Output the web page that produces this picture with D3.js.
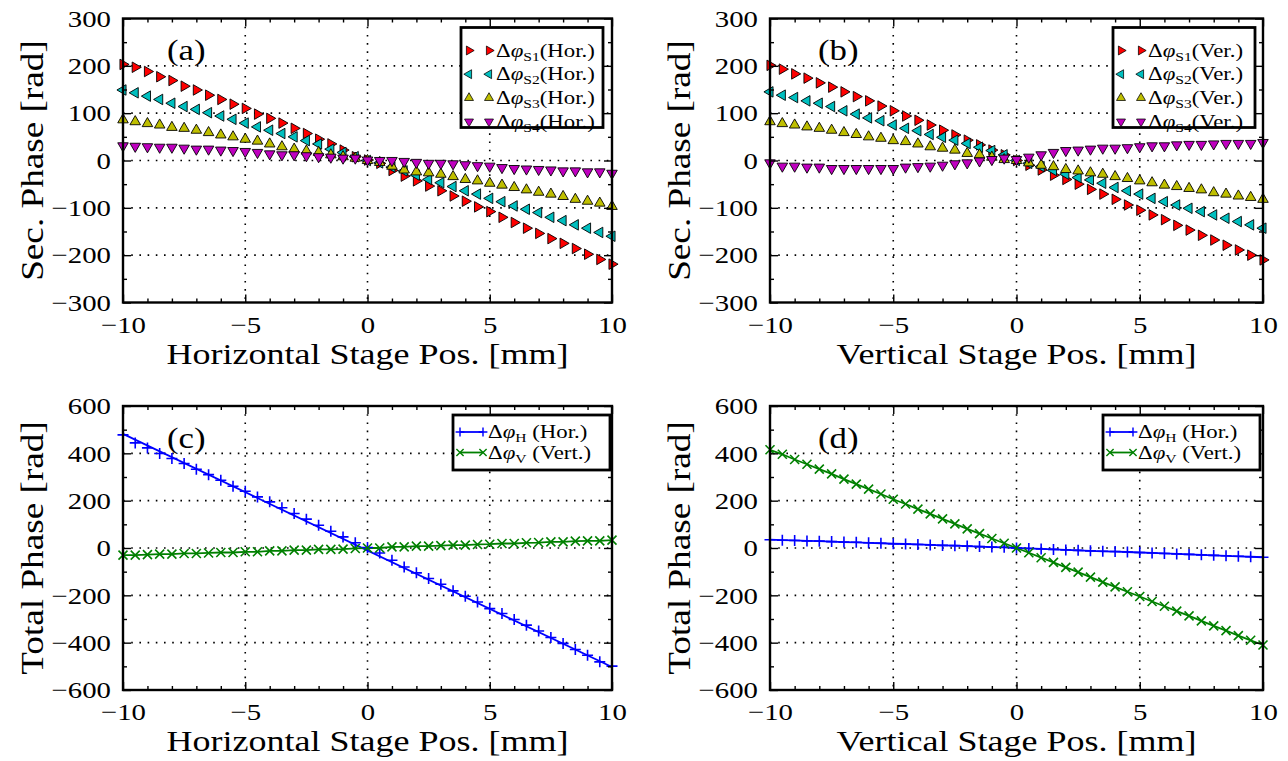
<!DOCTYPE html>
<html>
<head>
<meta charset="utf-8">
<script src="https://cdn.jsdelivr.net/npm/d3@7"></script>
<style>
body { margin: 0; background: #fff; }
svg, svg text { font-family: "Liberation Serif", "Times New Roman", serif; }
</style>
</head>
<body>
<svg id="drawing_region"></svg>
<script>
// stage positions [mm], 0.5 mm step
const stagePos = [-10, -9.5, -9, -8.5, -8, -7.5, -7, -6.5, -6, -5.5, -5, -4.5, -4, -3.5, -3, -2.5, -2, -1.5, -1, -0.5,
    0, 0.5, 1, 1.5, 2, 2.5, 3, 3.5, 4, 4.5, 5, 5.5, 6, 6.5, 7, 7.5, 8, 8.5, 9, 9.5, 10];

// (a) secondary phase, horizontal scan [rad]
const secHorS1 = [203, 197, 188, 177, 169, 157, 149, 138, 129, 119, 110, 98, 89, 79, 68, 57, 45, 35, 22, 8,
    1, -6, -21, -33, -43, -54, -64, -75, -86, -98, -108, -120, -131, -143, -154, -165, -175, -186, -198, -209, -219];
const secHorS2 = [149, 143, 136, 129, 121, 114, 108, 101, 94, 87, 79, 71, 64, 57, 50, 42, 35, 24, 17, 8,
    0, -5, -14, -22, -31, -40, -47, -55, -64, -71, -80, -87, -96, -103, -110, -120, -127, -136, -143, -152, -160];
const secHorS3 = [86, 82, 78, 75, 70, 68, 64, 59, 54, 50, 45, 41, 35, 29, 24, 20, 17, 12, 8, 5,
    0, -4, -12, -20, -24, -26, -29, -34, -40, -43, -48, -52, -57, -62, -67, -71, -76, -82, -86, -90, -97];
const secHorS4 = [31, 30, 29, 28, 28, 26, 24, 24, 22, 21, 19, 17, 14, 12, 12, 10, 8, 7, 5, 5,
    1, 0, 0, -2, -4, -6, -6, -7, -9, -11, -12, -15, -17, -18, -19, -20, -22, -22, -24, -24, -27];

// (b) secondary phase, vertical scan [rad]
const secVerS1 = [201, 193, 183, 174, 164, 155, 145, 135, 126, 115, 105, 94, 85, 75, 64, 54, 43, 33, 22, 12,
    0, -10, -20, -31, -40, -50, -61, -71, -82, -94, -105, -115, -125, -137, -147, -158, -168, -179, -189, -200, -210];
const secVerS2 = [145, 138, 133, 126, 121, 114, 105, 98, 90, 84, 75, 68, 63, 55, 49, 43, 36, 28, 21, 12,
    0, -6, -13, -21, -29, -36, -41, -48, -57, -64, -71, -80, -87, -94, -101, -108, -115, -122, -129, -136, -143];
const secVerS3 = [82, 78, 75, 71, 68, 64, 59, 55, 50, 47, 42, 40, 35, 29, 26, 22, 15, 12, 7, 2,
    0, -5, -10, -13, -19, -22, -26, -29, -34, -38, -43, -47, -52, -55, -59, -62, -68, -71, -75, -78, -82];
const secVerS4 = [-5, -12, -12, -14, -14, -17, -17, -17, -17, -17, -17, -14, -13, -12, -10, -7, -5, -1, 2, 5,
    2, 7, 12, 17, 21, 22, 24, 26, 26, 27, 29, 31, 31, 33, 34, 34, 35, 36, 36, 36, 38];

// (c) total phase, horizontal scan [rad]
const totHorH = [478, 444, 423, 399, 378, 357, 333, 310, 286, 261, 240, 216, 195, 170, 146, 122, 96, 71, 47, 22,
    2, -21, -52, -80, -105, -129, -153, -181, -204, -228, -256, -277, -302, -326, -351, -378, -403, -429, -453, -481, -499];
const totHorV = [-30, -30, -28, -26, -26, -23, -23, -21, -19, -19, -16, -16, -12, -12, -9, -9, -6, -6, -5, -2,
    0, 0, 5, 5, 8, 8, 10, 12, 12, 15, 16, 19, 19, 22, 23, 26, 26, 29, 30, 30, 33];
// straight fit through the H points
const fitPos = [-10, 10];
const totHorHFit = [482, -503];

// (d) total phase, vertical scan [rad]
const totVerH = [35, 33, 32, 30, 29, 27, 25, 24, 22, 20, 18, 17, 15, 13, 11, 10, 8, 6, 4, 3,
    0, -2, -4, -6, -8, -10, -12, -14, -15, -17, -19, -21, -23, -25, -27, -29, -31, -33, -35, -37, -39];
const totVerV = [415, 396, 374, 354, 333, 313, 291, 270, 249, 228, 206, 186, 164, 144, 123, 102, 81, 61, 40, 20,
    0, -20, -41, -61, -82, -102, -123, -144, -164, -185, -205, -226, -246, -267, -287, -308, -329, -349, -370, -390, -410];

// ticks
const xTicks = [-10, -5, 0, 5, 10];
const xMinor = [-9, -8, -7, -6, -4, -3, -2, -1, 1, 2, 3, 4, 6, 7, 8, 9];
const secTicks = [-300, -200, -100, 0, 100, 200, 300];
const secMinor = [-250, -150, -50, 50, 150, 250];
const totTicks = [-600, -400, -200, 0, 200, 400, 600];
const totMinor = [-500, -300, -100, 100, 300, 500];

// serif glyphs here are narrower than the original ones
const K = 1.2;
const FONT = '"Liberation Serif", "Times New Roman", serif';

const svg = d3.select('#drawing_region')
    .attr('width', 1288)
    .attr('height', 761);

const marker_paths = {
    right: d3.symbol(d3.symbolTriangle, 48)(),
    cross: 'M-5.5,0H5.5M0,-5.5V5.5',
    ex: 'M-4.5,-4.5L4.5,4.5M-4.5,4.5L4.5,-4.5'
};

function stretchedText( parent, x, y, size, rotate ) {
    const g = parent.append('g')
        .attr('transform', `translate(${x},${y})` + (rotate ? ` rotate(${rotate})` : '') + ` scale(${K},1)`);
    return g.append('text')
        .style('font-family', FONT)
        .style('font-size', size + 'px')
        .attr('fill', '#000');
}

function phaseLabel( text, sub, suffix, subSize ) {
    text.append('tspan').text('Δ');
    text.append('tspan').style('font-style', 'italic').text('φ');
    text.append('tspan').attr('dy', 4).style('font-size', subSize + 'px').text(sub);
    text.append('tspan').attr('dy', -4).text(suffix);
}

class PhasePanel {

    constructor( config, series ) {
        this.config = config;
        this.series = series;
        this.init();
    }

    init() {
        let self = this;
        const c = self.config;

        self.chart = svg.append('g')
            .attr('transform', `translate(${c.left}, ${c.top})`);

        self.inner_width = c.right - c.left;
        self.inner_height = c.bottom - c.top;

        self.xscale = d3.scaleLinear()
            .domain([-10, 10])
            .range([0, self.inner_width]);

        self.yscale = d3.scaleLinear()
            .domain([c.yticks[0], c.yticks[c.yticks.length - 1]])
            .range([self.inner_height, 0]);
    }

    render() {
        let self = this;
        const c = self.config;
        const w = self.inner_width, h = self.inner_height;

        // dotted grid at major ticks
        const grid = self.chart.append('g')
            .attr('stroke', '#000')
            .attr('stroke-width', 1.6)
            .attr('stroke-dasharray', '1.6,6.6');
        grid.selectAll('.gx').data(xTicks.slice(1, -1)).join('line')
            .attr('x1', d => self.xscale(d)).attr('x2', d => self.xscale(d))
            .attr('y1', 0).attr('y2', h);
        grid.selectAll('.gy').data(c.yticks.slice(1, -1)).join('line')
            .attr('y1', d => self.yscale(d)).attr('y2', d => self.yscale(d))
            .attr('x1', 0).attr('x2', w);

        // lines
        const line = d3.line()
            .x(d => self.xscale(d[0]))
            .y(d => self.yscale(d[1]));
        self.series.filter(s => s.line).forEach(s => {
            self.chart.append('path')
                .datum(d3.zip(s.linePos || stagePos, s.line))
                .attr('d', line)
                .attr('fill', 'none')
                .attr('stroke', s.color)
                .attr('stroke-width', 1.8);
        });

        // markers
        self.series.forEach(s => {
            self.chart.append('g')
                .selectAll('path')
                .data(d3.zip(stagePos, s.values))
                .join('path')
                .attr('transform', d => `translate(${self.xscale(d[0])},${self.yscale(d[1])}) rotate(${s.rotate || 0})`)
                .attr('d', marker_paths[s.shape])
                .attr('fill', s.shape == 'right' ? s.color : 'none')
                .attr('stroke', s.shape == 'right' ? '#000' : s.color)
                .attr('stroke-width', s.shape == 'right' ? 0.9 : 1.6);
        });

        // axes with inward ticks on all sides
        const fmt = d3.format('');
        const addAxis = ( axis, transform, size, values, labels ) => {
            const g = self.chart.append('g')
                .attr('transform', transform)
                .call(axis.tickValues(values).tickSizeInner(-size).tickSizeOuter(0)
                    .tickPadding(labels ? 12 : 0)
                    .tickFormat(labels ? fmt : ''));
            g.select('.domain').remove();
            g.attr('font-family', null).attr('font-size', null);
            g.selectAll('line').attr('stroke', '#000').attr('stroke-width', 1.4);
            return g;
        };
        const bottomAxis = addAxis(d3.axisBottom(self.xscale), `translate(0,${h})`, 8, xTicks, true);
        addAxis(d3.axisBottom(self.xscale), `translate(0,${h})`, 4, xMinor, false);
        addAxis(d3.axisTop(self.xscale), 'translate(0,0)', 8, xTicks, false);
        addAxis(d3.axisTop(self.xscale), 'translate(0,0)', 4, xMinor, false);
        const leftAxis = addAxis(d3.axisLeft(self.yscale), 'translate(0,0)', 8, c.yticks, true);
        addAxis(d3.axisLeft(self.yscale), 'translate(0,0)', 4, c.yminor, false);
        addAxis(d3.axisRight(self.yscale), `translate(${w},0)`, 8, c.yticks, false);
        addAxis(d3.axisRight(self.yscale), `translate(${w},0)`, 4, c.yminor, false);

        bottomAxis.selectAll('text')
            .style('font-family', FONT)
            .style('font-size', '24px').attr('fill', '#000')
            .attr('y', 13)
            .attr('transform', `scale(${K},1)`);
        leftAxis.selectAll('text')
            .style('font-family', FONT)
            .style('font-size', '24px').attr('fill', '#000')
            .attr('x', -12 / K)
            .attr('transform', `scale(${K},1)`);

        // frame
        self.chart.append('rect')
            .attr('width', w).attr('height', h)
            .attr('fill', 'none')
            .attr('stroke', '#000')
            .attr('stroke-width', 2.4);

        // axis titles and panel letter
        stretchedText(self.chart, w / 2, h + 61, 30)
            .attr('text-anchor', 'middle')
            .text(c.xlabel);
        stretchedText(self.chart, -80, h / 2, 31, -90)
            .attr('text-anchor', 'middle')
            .text(c.ylabel);
        stretchedText(self.chart, c.tagX, c.tagY, 29)
            .text(c.tag);

        self.legend();
    }

    legend() {
        let self = this;
        const c = self.config, L = c.legend;
        const lg = self.chart.append('g')
            .attr('transform', `translate(${L.x}, ${L.y})`);
        lg.append('rect')
            .attr('width', L.w).attr('height', L.h)
            .attr('fill', '#fff')
            .attr('stroke', '#000')
            .attr('stroke-width', 2.8);

        self.series.forEach((s, i) => {
            const ry = L.row0 + i * L.rowStep;
            const item = lg.append('g').attr('transform', `translate(0,${ry})`);
            if (s.line) {
                item.append('line')
                    .attr('x1', L.m1).attr('x2', L.m2)
                    .attr('stroke', s.color).attr('stroke-width', 1.8);
            }
            [L.m1, L.m2].forEach(mx => {
                item.append('path')
                    .attr('transform', `translate(${mx},0) rotate(${s.rotate || 0}) scale(${s.shape == 'right' ? 0.85 : 0.8})`)
                    .attr('d', marker_paths[s.shape])
                    .attr('fill', s.shape == 'right' ? s.color : 'none')
                    .attr('stroke', s.shape == 'right' ? '#000' : s.color)
                    .attr('stroke-width', s.shape == 'right' ? 0.9 : 1.8);
            });
            const t = stretchedText(item, L.tx, 6, L.font);
            phaseLabel(t, s.sub, s.suffix, 13);
        });
    }
}

const triStyles = [
    { color: '#ff0000', shape: 'right', rotate: 90, sub: 'S1' },
    { color: '#00bfbf', shape: 'right', rotate: -90, sub: 'S2' },
    { color: '#bfbf00', shape: 'right', rotate: 0, sub: 'S3' },
    { color: '#bf00bf', shape: 'right', rotate: 180, sub: 'S4' }
];

const triLegend = ( x ) => ({ x: x, y: 9, w: 142, h: 100, row0: 23, rowStep: 23.7, m1: 8, m2: 28, tx: 35, font: 19 });
const totLegend = ( x ) => ({ x: x, y: 9, w: 157, h: 55, row0: 17, rowStep: 20.5, m1: 7, m2: 30, tx: 35, font: 19 });

const panelA = new PhasePanel(
    { left: 123, right: 612, top: 18.5, bottom: 302.5, yticks: secTicks, yminor: secMinor,
      xlabel: 'Horizontal Stage Pos. [mm]', ylabel: 'Sec. Phase [rad]', tag: '(a)', tagX: 44, tagY: 41,
      legend: triLegend(338) },
    [secHorS1, secHorS2, secHorS3, secHorS4].map((v, i) => Object.assign({ values: v, suffix: '(Hor.)' }, triStyles[i]))
);
panelA.render();

const panelB = new PhasePanel(
    { left: 770, right: 1263, top: 18.5, bottom: 302.5, yticks: secTicks, yminor: secMinor,
      xlabel: 'Vertical Stage Pos. [mm]', ylabel: 'Sec. Phase [rad]', tag: '(b)', tagX: 48, tagY: 41,
      legend: triLegend(343) },
    [secVerS1, secVerS2, secVerS3, secVerS4].map((v, i) => Object.assign({ values: v, suffix: '(Ver.)' }, triStyles[i]))
);
panelB.render();

const panelC = new PhasePanel(
    { left: 123, right: 612, top: 406, bottom: 690, yticks: totTicks, yminor: totMinor,
      xlabel: 'Horizontal Stage Pos. [mm]', ylabel: 'Total Phase [rad]', tag: '(c)', tagX: 44, tagY: 42,
      legend: totLegend(330) },
    [
        { values: totHorH, line: totHorHFit, linePos: fitPos, color: '#0000ff', shape: 'cross', sub: 'H', suffix: ' (Hor.)' },
        { values: totHorV, line: totHorV, color: '#008000', shape: 'ex', sub: 'V', suffix: ' (Vert.)' }
    ]
);
panelC.render();

const panelD = new PhasePanel(
    { left: 770, right: 1263, top: 406, bottom: 690, yticks: totTicks, yminor: totMinor,
      xlabel: 'Vertical Stage Pos. [mm]', ylabel: 'Total Phase [rad]', tag: '(d)', tagX: 48, tagY: 42,
      legend: totLegend(333) },
    [
        { values: totVerH, line: totVerH, color: '#0000ff', shape: 'cross', sub: 'H', suffix: ' (Hor.)' },
        { values: totVerV, line: totVerV, color: '#008000', shape: 'ex', sub: 'V', suffix: ' (Vert.)' }
    ]
);
panelD.render();
</script>
</body>
</html>
